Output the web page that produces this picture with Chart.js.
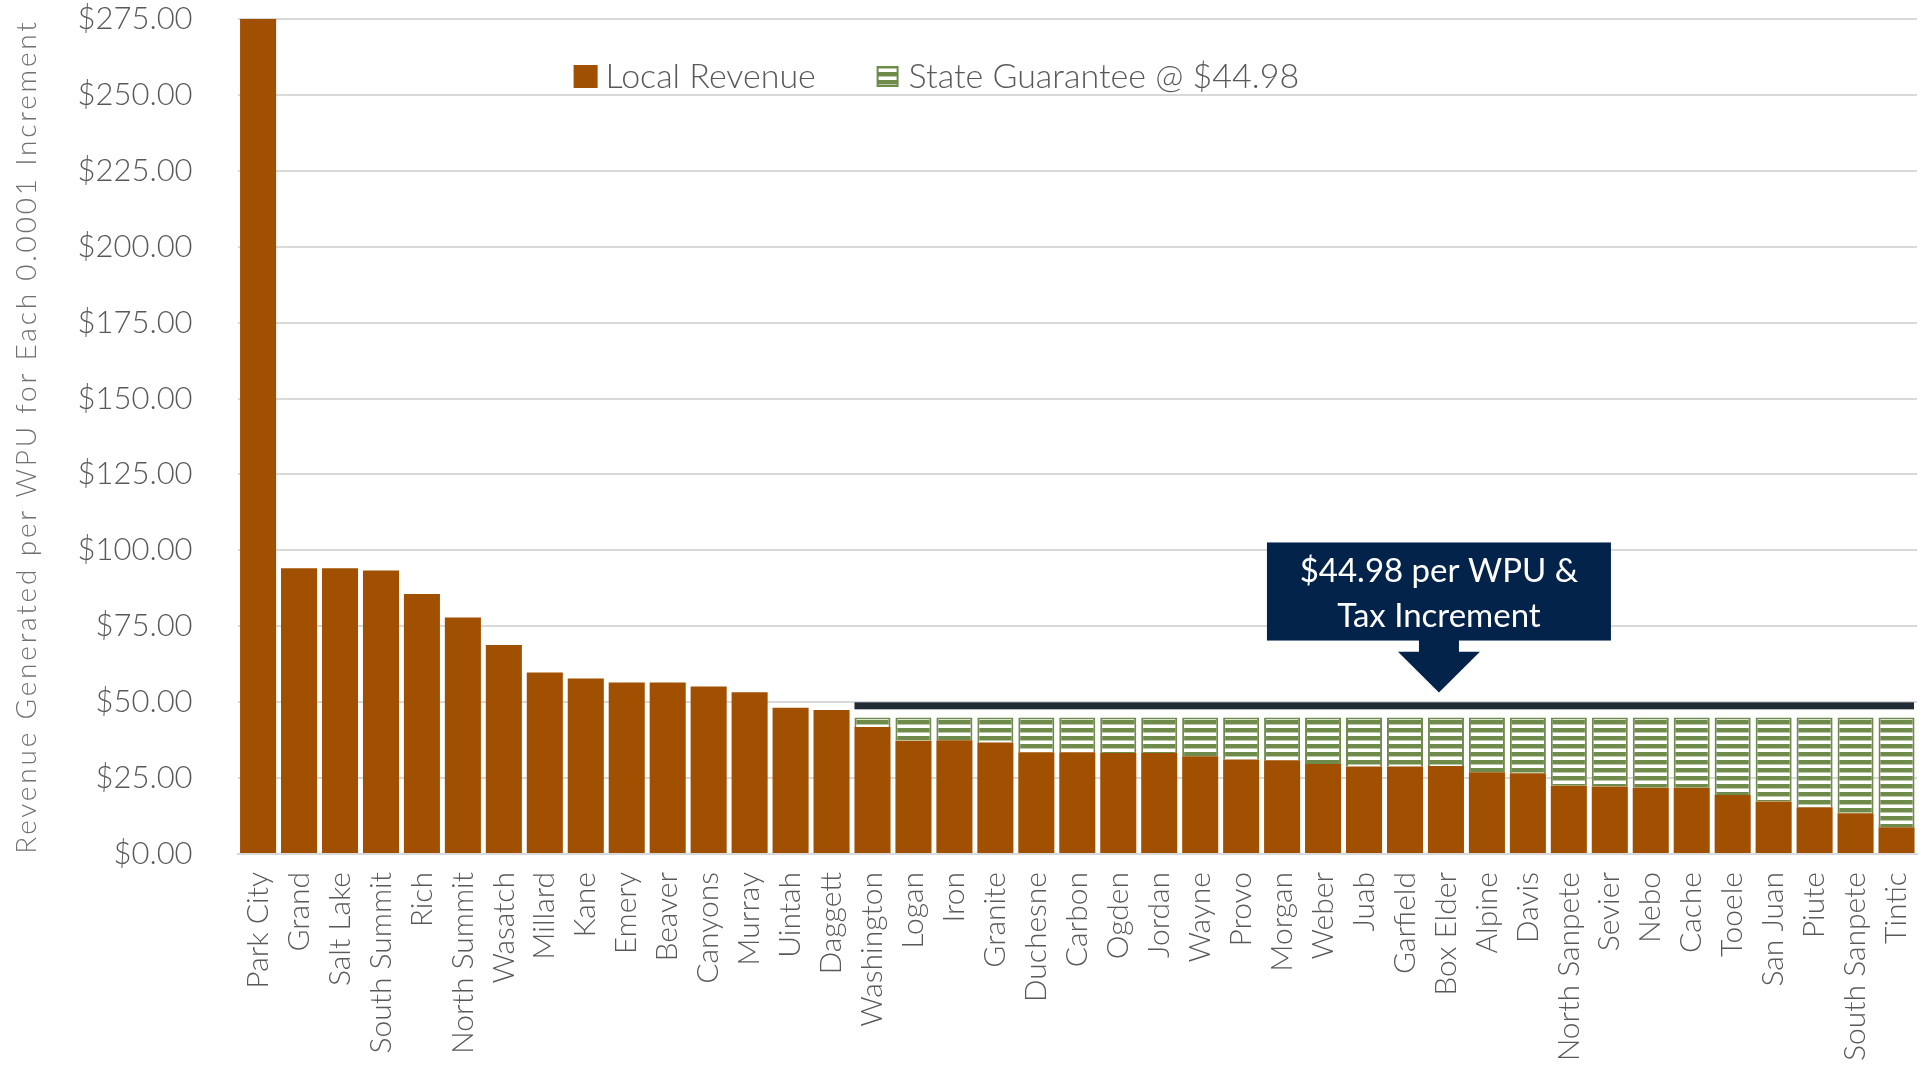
<!DOCTYPE html>
<html>
<head>
<meta charset="utf-8">
<script src="https://cdn.jsdelivr.net/npm/chart.js@4.4.0/dist/chart.umd.min.js"></script>
<style>
  html, body { margin: 0; padding: 0; background: #fff; overflow: hidden; }
  #wrap { width: 1921px; height: 1068px; }
</style>
</head>
<body>
<div id="wrap"><canvas id="myChart" width="1921" height="1068"></canvas></div>
<script>
// districts, sorted by local revenue
const districts = ["Park City", "Grand", "Salt Lake", "South Summit", "Rich", "North Summit", "Wasatch",
  "Millard", "Kane", "Emery", "Beaver", "Canyons", "Murray", "Uintah", "Daggett", "Washington", "Logan",
  "Iron", "Granite", "Duchesne", "Carbon", "Ogden", "Jordan", "Wayne", "Provo", "Morgan", "Weber", "Juab",
  "Garfield", "Box Elder", "Alpine", "Davis", "North Sanpete", "Sevier", "Nebo", "Cache", "Tooele",
  "San Juan", "Piute", "South Sanpete", "Tintic"];

const localRevenue = [290, 94.1, 94.1, 93.4, 85.6, 77.9, 68.8, 59.8, 57.8, 56.5, 56.5, 55.2, 53.3, 48.2, 47.4,
  41.8, 37.3, 37.5, 36.7, 33.5, 33.5, 33.3, 33.3, 32.2, 31.1, 30.9, 29.6, 28.8, 28.8, 29.0, 26.9, 26.6,
  22.5, 22.2, 21.8, 21.8, 19.4, 17.3, 15.4, 13.4, 8.8];

const stateGuarantee = [null, null, null, null, null, null, null, null, null, null, null, null, null, null, null,
  3.18, 7.68, 7.48, 8.28, 11.48, 11.48, 11.68, 11.68, 12.78, 13.88, 14.08, 15.38, 16.18, 16.18, 15.98, 18.08, 18.38,
  22.48, 22.78, 23.18, 23.18, 25.58, 27.68, 29.58, 31.58, 36.18];

const yTicks = [0, 25, 50, 75, 100, 125, 150, 175, 200, 225, 250, 275];

const guaranteeLevel = 48.8; // dark bar above the guaranteed districts
const calloutLines = ["$44.98 per WPU &", "Tax Increment"];

document.addEventListener("DOMContentLoaded", function() {

const ORANGE = '#A14F00';
const GREEN = '#6F8B4C';
const GRAY = '#595959';
const FONT = 'Lato';

// striped fill for the state guarantee
function makeStripes() {
  const c = document.createElement('canvas');
  c.width = 8; c.height = 8;
  const g = c.getContext('2d');
  g.fillStyle = '#ffffff';
  g.fillRect(0, 0, 8, 8);
  g.fillStyle = GREEN;
  g.fillRect(0, 0, 8, 4);
  g.fillStyle = '#b9c9a6';
  g.fillRect(0, 4, 8, 1);
  return g.createPattern(c, 'repeat');
}

var ctx = document.getElementById('myChart').getContext('2d');
const stripes = makeStripes();

const extras = {
  id: 'extras',
  afterDraw(chart) {
    const c = chart.ctx;
    const x = chart.scales.x, y = chart.scales.y;
    const area = chart.chartArea;
    const step = x.getPixelForValue(1) - x.getPixelForValue(0);
    const barW = step * 0.88;

    c.save();

    // y axis title
    c.save();
    c.translate(27, (area.top + area.bottom) / 2);
    c.rotate(-Math.PI / 2);
    c.font = '300 28px ' + FONT;
    c.letterSpacing = '2.8px';
    c.fillStyle = '#707070';
    c.textAlign = 'center';
    c.textBaseline = 'middle';
    c.fillText('Revenue Generated per WPU for Each 0.0001 Increment', 0, 0);
    c.restore();

    // legend
    c.font = '300 34px ' + FONT;
    c.textBaseline = 'middle';
    c.textAlign = 'left';
    const ly = 77;
    let lx = area.left + 336;
    c.fillStyle = ORANGE;
    c.fillRect(lx, ly - 12, 24, 23);
    c.fillStyle = GRAY;
    c.fillText('Local Revenue', lx + 32, ly);
    lx = area.left + 640;
    c.fillStyle = stripes;
    c.fillRect(lx, ly - 10, 20, 19);
    c.strokeStyle = GREEN;
    c.lineWidth = 2;
    c.strokeRect(lx, ly - 10, 20, 19);
    c.fillStyle = GRAY;
    c.fillText('State Guarantee @ $44.98', lx + 31, ly);

    // dark guarantee line
    const gy = y.getPixelForValue(guaranteeLevel);
    const gx = x.getPixelForValue(15) - barW / 2;
    c.fillStyle = '#222A35';
    c.fillRect(gx, gy - 3.5, area.right - 3 - gx, 7);

    // callout
    const cx = x.getPixelForValue(29) - 7;
    const top = y.getPixelForValue(102.6), bot = y.getPixelForValue(70.3);
    const stemEnd = y.getPixelForValue(66.6), tip = y.getPixelForValue(53.2);
    c.fillStyle = '#03234B';
    c.fillRect(cx - 172, top, 344, bot - top);
    c.beginPath();
    c.moveTo(cx - 20, bot - 1);
    c.lineTo(cx + 20, bot - 1);
    c.lineTo(cx + 20, stemEnd);
    c.lineTo(cx + 41, stemEnd);
    c.lineTo(cx, tip);
    c.lineTo(cx - 41, stemEnd);
    c.lineTo(cx - 20, stemEnd);
    c.closePath();
    c.fill();
    c.fillStyle = '#ffffff';
    c.font = '33px ' + FONT;
    c.textAlign = 'center';
    c.fillText(calloutLines[0], cx, top + 29);
    c.fillText(calloutLines[1], cx, top + 74);

    c.restore();
  }
};

var data = {
  labels: districts,
  datasets: [{
    label: "Local Revenue",
    data: localRevenue,
    backgroundColor: ORANGE,
    borderWidth: 0,
    barPercentage: 0.88,
    categoryPercentage: 1
  }, {
    label: "State Guarantee @ $44.98",
    data: stateGuarantee,
    backgroundColor: stripes,
    borderColor: GREEN,
    borderWidth: 2,
    borderSkipped: 'bottom',
    barPercentage: 0.88,
    categoryPercentage: 1
  }]
};

var myChart = new Chart(ctx, {
  type: "bar",
  data: data,
  plugins: [extras],
  options: {
    responsive: false,
    animation: false,
    layout: { padding: { top: 19, right: 4, left: 0, bottom: 0 } },
    plugins: {
      legend: { display: false },
      tooltip: { enabled: false }
    },
    scales: {
      x: {
        stacked: true,
        afterFit: function(scale) {
          scale.height = 214;
          scale.paddingLeft = 0;
          scale.paddingRight = 0;
        },
        grid: { display: false, drawTicks: false },
        border: { color: '#D9D9D9', width: 2 },
        ticks: {
          autoSkip: false,
          maxRotation: 90,
          minRotation: 90,
          padding: 18,
          color: GRAY,
          font: { family: FONT, size: 30, weight: 300 }
        }
      },
      y: {
        stacked: true,
        min: 0,
        max: 275,
        afterFit: function(scale) {
          scale.width = 237.6;
          scale.paddingTop = 0;
          scale.paddingBottom = 0;
        },
        afterBuildTicks: function(scale) { scale.ticks = yTicks.map(v => ({ value: v })); },
        grid: { color: '#D9D9D9', lineWidth: 2, drawTicks: false },
        border: { display: false },
        ticks: {
          padding: 45,
          color: GRAY,
          font: { family: FONT, size: 31, weight: 300 },
          callback: function(v) { return '$' + Number(v).toFixed(2); }
        }
      }
    }
  }
});

});
</script>
</body>
</html>
